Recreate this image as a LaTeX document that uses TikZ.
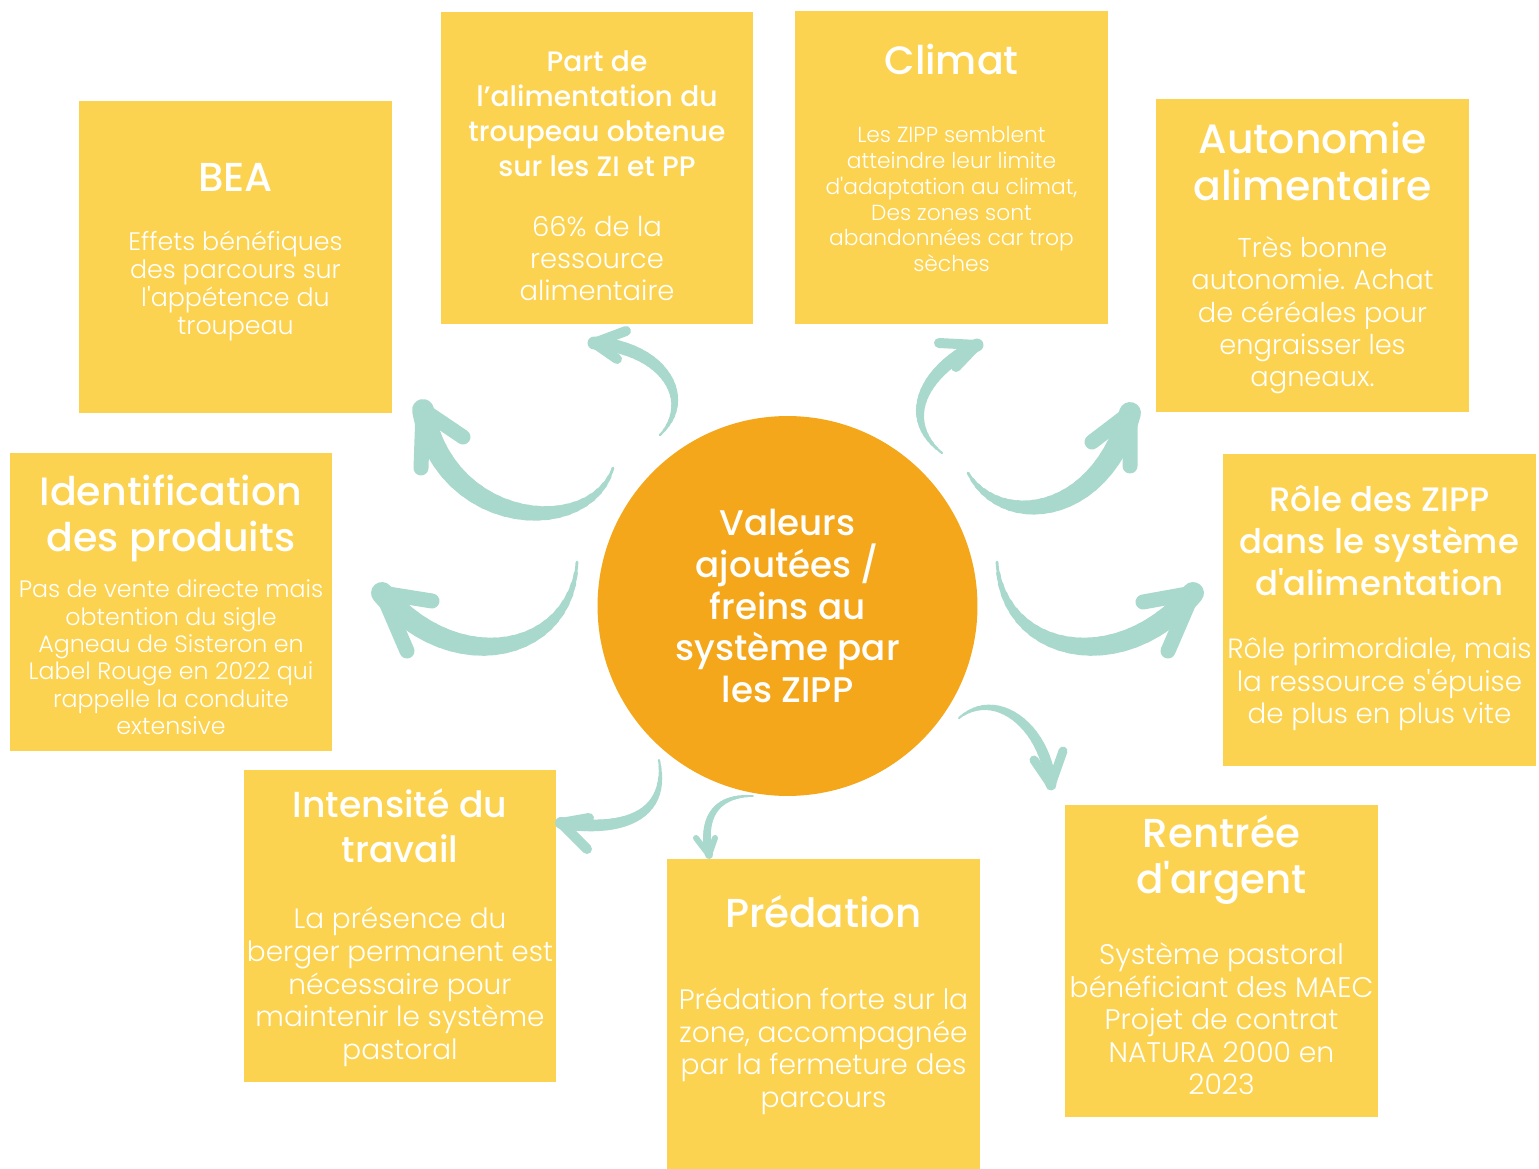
\documentclass[tikz,border=0pt]{standalone}
\usepackage{fontspec}
\setmainfont{Poppins}[UprightFont=* Medium, Ligatures=TeXOff]
\newfontfamily\lightfont{Poppins Light}[Ligatures=TeXOff]

\definecolor{boxyellow}{RGB}{252,211,80}
\definecolor{huborange}{RGB}{244,167,26}
\definecolor{swooshteal}{RGB}{169,217,204}

% title, gap, body of one card
\newcommand\fixspace{\spaceskip=\fontdimen2\font\relax}
\newcommand\cardtext[7]{{\fontsize{#1}{#2}\selectfont\fixspace #3\par}\vspace{#4}{\lightfont\fontsize{#5}{#6}\selectfont\fixspace #7\par}}
% tapered brush stroke: tail, c1 x y, c2 x y, tip, width in px
\newcommand\swoosh[7]{%
  \foreach \k in {1,...,24}{%
    \pgfmathsetmacro\ta{(\k-1)/24}%
    \pgfmathsetmacro\tb{\k/24}%
    \pgfmathsetmacro\lw{0.5669*(1.5+(#7-1.5)*sin(90*\tb))}%
    \pgfsetlinewidth{\lw pt}%
    \pgfpathcurvebetweentime{\ta}{\tb}{\pgfpointanchor{#1}{center}}{\pgfpointxy{#2}{#3}}{\pgfpointxy{#4}{#5}}{\pgfpointanchor{#6}{center}}%
    \pgfusepath{stroke}}}

\begin{document}
\begin{tikzpicture}[x=0.02cm, y=-0.02cm,
  panel/.style={rectangle, fill=boxyellow, inner sep=0pt, minimum width=6.26cm, minimum height=6.26cm},
  cardtext/.style={text=white, align=center, text width=8cm, inner sep=0pt},
  hub/.style={circle, fill=huborange, text=white, align=center, minimum size=7.6cm, inner sep=0pt, font=\fontsize{20.3}{23.8}\selectfont},
  chevron/.style={draw=swooshteal, line cap=round, line join=round}]
\useasboundingbox (0,0) rectangle (1539,1169);

% boxes
\node[panel] (bea) at (235.5,257) {};
\node[panel] (part) at (597,168) {};
\node[panel] (clim) at (951.5,167.5) {};
\node[panel] (auto) at (1312.5,255.5) {};
\node[panel, minimum width=6.44cm, minimum height=5.96cm] (ident) at (171,602) {};
\node[panel] (role) at (1379.5,610) {};
\node[panel] (inten) at (400,926) {};
\node[panel, minimum height=6.2cm] (pred) at (823.5,1014) {};
\node[panel] (rent) at (1221.5,961) {};
\node[hub] (hub) at (787.5,606) {Valeurs\\ajoutées /\\freins au\\système par\\les ZIPP};

% texts
\node[cardtext] (bea-text) at (235.5,252) {\cardtext{23}{27}{BEA}{18pt}{14.4}{15.9}{Effets bénéfiques\\des parcours sur\\l'appétence du\\troupeau}};
\node[cardtext] (part-text) at (597,176) {\cardtext{16}{19.8}{Part de\\l’alimentation du\\troupeau obtenue\\sur les ZI et PP}{15.6pt}{15.6}{18.4}{66\% de la\\ressource\\alimentaire}};
\node[cardtext] (clim-text) at (951.5,158) {\cardtext{22.5}{26}{Climat}{24pt}{12.4}{14.7}{Les ZIPP semblent\\atteindre leur limite\\d'adaptation au climat,\\Des zones sont\\abandonnées car trop\\sèches}};
\node[cardtext] (auto-text) at (1312.5,258) {\cardtext{23.3}{27}{Autonomie\\alimentaire}{14pt}{15.5}{18.4}{Très bonne\\autonomie. Achat\\de céréales pour\\engraisser les\\agneaux.}};
\node[cardtext] (ident-text) at (171,605) {\cardtext{22.5}{26}{Identification\\des produits}{9.3pt}{13.5}{15.6}{Pas de vente directe mais\\obtention du sigle\\Agneau de Sisteron en\\Label Rouge en 2022 qui\\rappelle la conduite\\extensive}};
\node[cardtext] (role-text) at (1379.5,608) {\cardtext{19.3}{23.8}{Rôle des ZIPP\\dans le système\\d'alimentation}{17.9pt}{15.8}{18.4}{Rôle primordiale, mais\\la ressource s'épuise\\de plus en plus vite}};
\node[cardtext] (inten-text) at (400,928) {\cardtext{20.6}{25.5}{Intensité du\\travail}{18.7pt}{15.9}{18.7}{La présence du\\berger permanent est\\nécessaire pour\\maintenir le système\\pastoral}};
\node[cardtext] (pred-text) at (823.5,1005) {\cardtext{23}{27}{Prédation}{28pt}{16}{18.5}{Prédation forte sur la\\zone, accompagnée\\par la fermeture des\\parcours}};
\node[cardtext] (rent-text) at (1221.5,955) {\cardtext{23}{26}{Rentrée\\d'argent}{21pt}{16.1}{18.5}{Système pastoral\\bénéficiant des MAEC\\Projet de contrat\\NATURA 2000 en\\2023}};

% arrow ends
\coordinate (part-s) at (660,435);   \coordinate (part-t) at (594,343);
\coordinate (bea-s) at (613,468);    \coordinate (bea-t) at (423,410);
\coordinate (ident-s) at (577,562);  \coordinate (ident-t) at (382,593);
\coordinate (clim-s) at (942,453);   \coordinate (clim-t) at (977,345);
\coordinate (auto-s) at (968,473);   \coordinate (auto-t) at (1130,413);
\coordinate (role-s) at (997,562);   \coordinate (role-t) at (1193,593);
\coordinate (rent-s) at (959,718);   \coordinate (rent-t) at (1051,785);
\coordinate (pred-s) at (753,796);   \coordinate (pred-t) at (709,855);
\coordinate (inten-s) at (659,760);  \coordinate (inten-t) at (561,823);

\begin{scope}[color=swooshteal, line cap=round]
\swoosh{part-s}{695}{400}{665}{348}{part-t}{13}
\swoosh{bea-s}{590}{540}{445}{530}{bea-t}{22}
\swoosh{ident-s}{572}{655}{455}{680}{ident-t}{22}
\swoosh{clim-s}{900}{420}{922}{372}{clim-t}{13}
\swoosh{auto-s}{1000}{530}{1100}{520}{auto-t}{22}
\swoosh{role-s}{1002}{655}{1120}{680}{role-t}{22}
\swoosh{rent-s}{995}{688}{1045}{725}{rent-t}{11}
\swoosh{pred-s}{712}{795}{702}{822}{pred-t}{8}
\swoosh{inten-s}{668}{812}{630}{833}{inten-t}{12}
\end{scope}

% arrow heads
\draw[chevron, line width=0.2cm] (part-t) ++(32,-12) -- (part-t) -- ++(23,16);
\draw[chevron, line width=0.3cm] (bea-t) ++(40,27) -- (bea-t) -- ++(-2,58);
\draw[chevron, line width=0.3cm] (ident-t) ++(50,8) -- (ident-t) -- ++(25,58);
\draw[chevron, line width=0.2cm] (clim-t) ++(-38,-2) -- (clim-t) -- ++(-21,22);
\draw[chevron, line width=0.3cm] (auto-t) ++(-38,29) -- (auto-t) -- ++(0,53);
\draw[chevron, line width=0.3cm] (role-t) ++(-50,9) -- (role-t) -- ++(-25,58);
\draw[chevron, line width=0.18cm] (rent-t) ++(-17,-25) -- (rent-t) -- ++(12,-34);
\draw[chevron, line width=0.12cm] (pred-t) ++(-13,-17) -- (pred-t) -- ++(6,-17);
\draw[chevron, line width=0.2cm] (inten-t) ++(28,-5) -- (inten-t) -- ++(26,26);
\end{tikzpicture}
\end{document}
